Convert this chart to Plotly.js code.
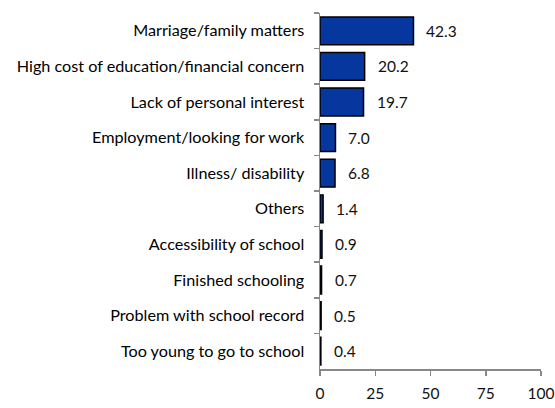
<!DOCTYPE html>
<html>
<head>
<meta charset="utf-8">
<script src="https://cdn.plot.ly/plotly-3.0.1.min.js"></script>
<style>html,body{margin:0;padding:0;background:#fff;}#chart{width:555px;height:408px;}</style>
</head>
<body>
<div id="chart"></div>
<script>
const categories = [
  "Marriage/family matters",
  "High cost of education/financial concern",
  "Lack of personal interest",
  "Employment/looking for work",
  "Illness/ disability",
  "Others",
  "Accessibility of school",
  "Finished schooling",
  "Problem with school record",
  "Too young to go to school"
];
const values = [42.3, 20.2, 19.7, 7.0, 6.8, 1.4, 0.9, 0.7, 0.5, 0.4];
const xTicks = [0, 25, 50, 75, 100];

const fontFam = "Lato, 'Open Sans', sans-serif";

const trace = {
  type: "bar",
  orientation: "h",
  y: categories,
  x: values,
  marker: {color: "#05379f", line: {color: "#000000", width: 1.5}},
  width: 0.78,
  hoverinfo: "none"
};

const annotations = values.map((v, i) => ({
  x: v, y: categories[i], xref: "x", yref: "y",
  text: v.toFixed(1), showarrow: false,
  xanchor: "left", xshift: 11,
  font: {family: fontFam, size: 15.5, color: "#111"}
}));

const layout = {
  width: 555, height: 408,
  margin: {l: 320, r: 14, t: 13, b: 39},
  paper_bgcolor: "#ffffff", plot_bgcolor: "#ffffff",
  showlegend: false,
  font: {family: fontFam, size: 15.5, color: "#000"},
  xaxis: {
    range: [0, 100], tickvals: xTicks, ticktext: xTicks.map(String),
    showgrid: false, zeroline: false, showline: true, linecolor: "#888", linewidth: 1.5,
    ticks: "outside", ticklen: 5, tickcolor: "#888", tickwidth: 1.5,
    ticklabelstandoff: 5,
    tickfont: {family: fontFam, size: 15.5, color: "#111"}, fixedrange: true
  },
  yaxis: {
    autorange: "reversed", type: "category",
    showgrid: false, zeroline: false, showline: true, linecolor: "#888", linewidth: 1.5,
    ticks: "outside", tickson: "boundaries", ticklen: 5, tickcolor: "#888", tickwidth: 1.5,
    ticklabelstandoff: 11,
    tickfont: {family: fontFam, size: 16.2, color: "#000"}, fixedrange: true
  },
  annotations: annotations
};

Plotly.newPlot("chart", [trace], layout, {displayModeBar: false, staticPlot: true});
</script>
</body>
</html>
